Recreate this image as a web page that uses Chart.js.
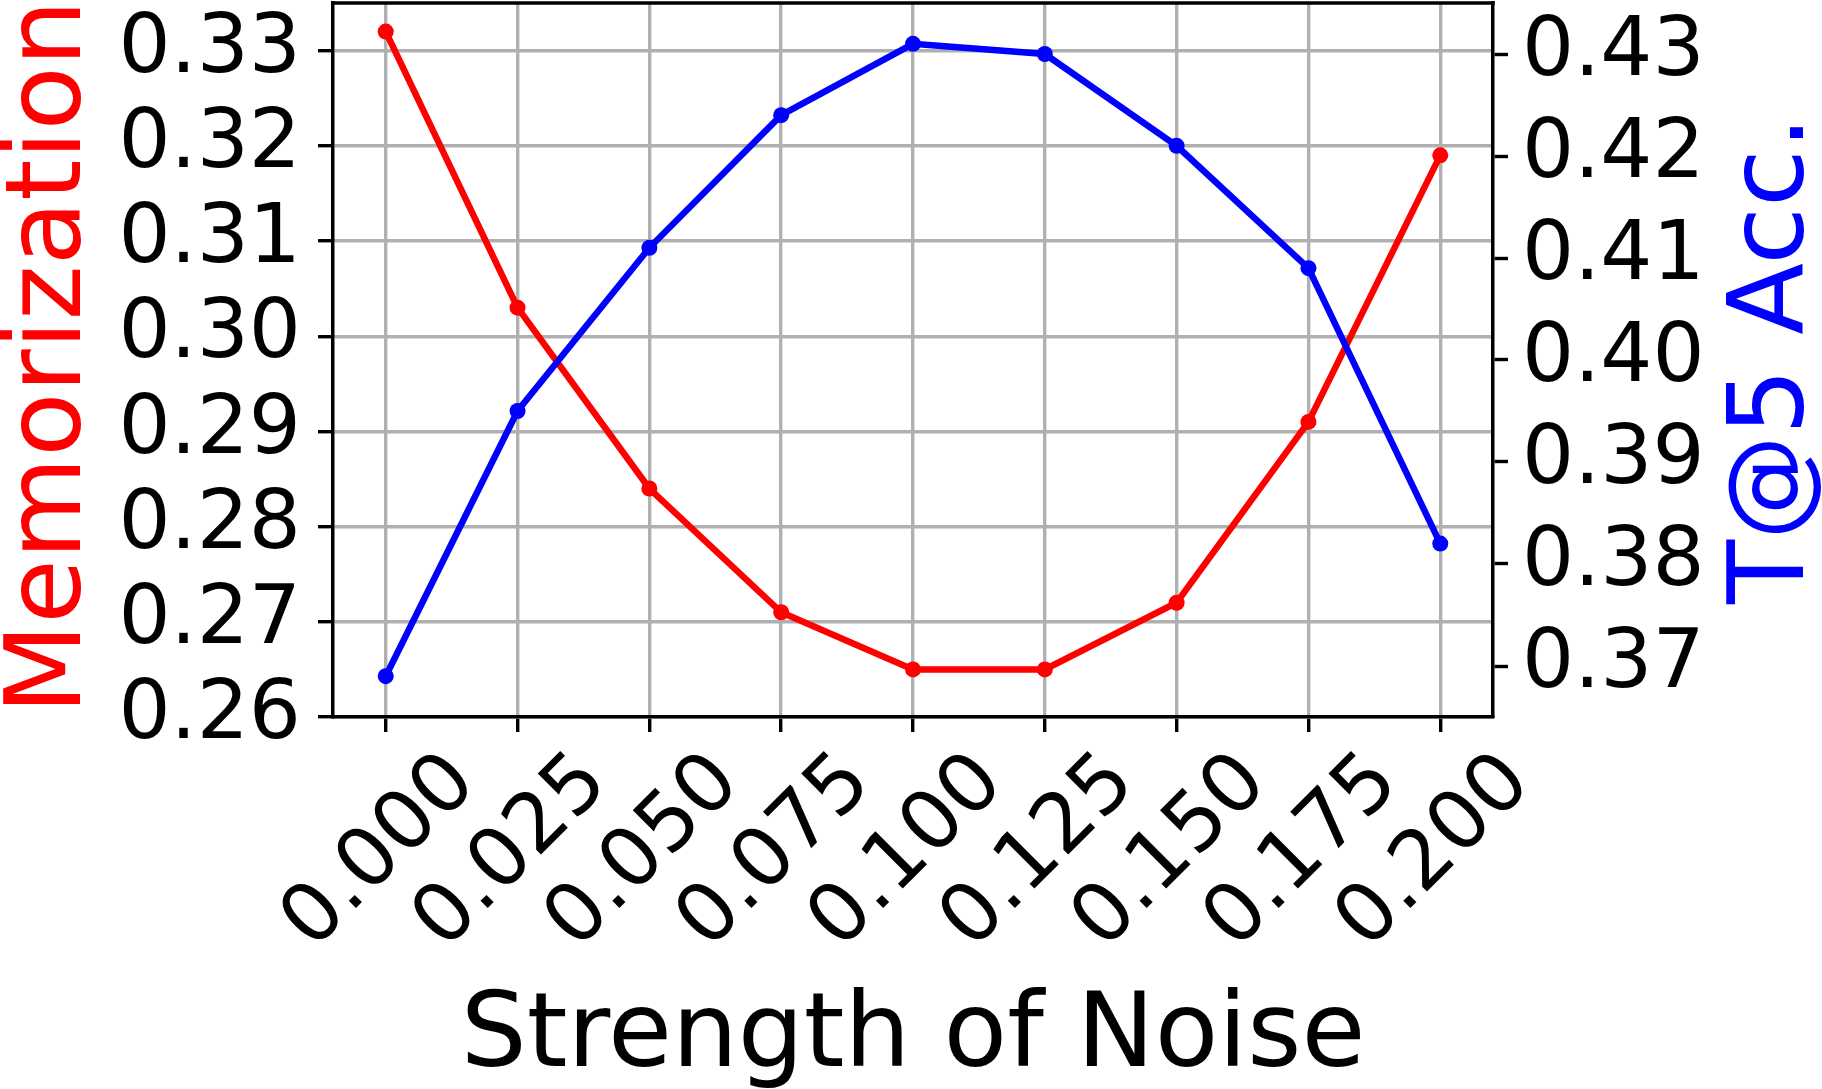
<!DOCTYPE html>
<html>
<head>
<meta charset="utf-8">
<title>Memorization vs T@5 Acc.</title>
<script src="https://cdn.jsdelivr.net/npm/chart.js@4.4.1/dist/chart.umd.min.js"></script>
<style>
  html, body { margin: 0; padding: 0; background: #fff; }
  #wrap { width: 1822px; height: 1089px; }
</style>
</head>
<body>
<div id="wrap"><canvas id="noiseChart" width="1822" height="1089"></canvas></div>
<script>
// data
const noise = [0.000, 0.025, 0.050, 0.075, 0.100, 0.125, 0.150, 0.175, 0.200];
const memorization = [0.332, 0.303, 0.284, 0.271, 0.265, 0.265, 0.272, 0.291, 0.319];
const t5Acc = [0.369, 0.395, 0.411, 0.424, 0.431, 0.430, 0.421, 0.409, 0.382];
const memTicks = [0.26, 0.27, 0.28, 0.29, 0.30, 0.31, 0.32, 0.33];
const accTicks = [0.37, 0.38, 0.39, 0.40, 0.41, 0.42, 0.43];

const xTitle = 'Strength of Noise';
const leftTitle = 'Memorization';
const rightTitle = 'T@5 Acc.';

const FONT = '"DejaVu Sans", "Liberation Sans", sans-serif';
const TICK_SIZE = 82;

function setTicks(list) {
    return function(scale) {
        scale.ticks = list.map(v => ({ value: v }));
    };
}

function fixSize(prop, size) {
    return function(scale) {
        scale[prop] = size;
        scale.paddingTop = 0;
        scale.paddingBottom = 0;
        scale.paddingLeft = 0;
        scale.paddingRight = 0;
    };
}

// top spine, rotated x tick labels and the three axis titles
const decor = {
    id: 'decor',
    afterDatasetsDraw(chart) {
        const { ctx, chartArea: a, scales } = chart;
        ctx.save();
        ctx.strokeStyle = '#000';
        ctx.lineWidth = 3.5;
        ctx.beginPath();
        ctx.moveTo(a.left - 1.75, a.top);
        ctx.lineTo(a.right + 1.75, a.top);
        ctx.stroke();

        ctx.fillStyle = '#000';
        ctx.font = TICK_SIZE + 'px ' + FONT;
        ctx.textAlign = 'center';
        ctx.textBaseline = 'middle';
        scales.x.ticks.forEach(t => {
            const px = scales.x.getPixelForValue(t.value);
            ctx.save();
            ctx.translate(px - 5, a.bottom + 136);
            ctx.rotate(-Math.PI / 4);
            ctx.fillText(t.value.toFixed(3), 0, 0);
            ctx.restore();
        });

        ctx.font = '104px ' + FONT;
        ctx.textBaseline = 'alphabetic';
        ctx.fillText(xTitle, (a.left + a.right) / 2, chart.height - 23);

        const midY = (a.top + a.bottom) / 2;
        ctx.font = '105px ' + FONT;
        ctx.fillStyle = '#ff0000';
        ctx.save();
        ctx.translate(80, midY - 3);
        ctx.rotate(-Math.PI / 2);
        ctx.fillText(leftTitle, 0, 0);
        ctx.restore();

        ctx.fillStyle = '#0000ff';
        ctx.save();
        ctx.translate(1803, midY);
        ctx.rotate(-Math.PI / 2);
        ctx.fillText(rightTitle, 0, 0);
        ctx.restore();
        ctx.restore();
    }
};

const ctx = document.getElementById('noiseChart').getContext('2d');
const noiseChart = new Chart(ctx, {
    type: 'line',
    data: {
        datasets: [{
            label: rightTitle,
            data: noise.map((x, i) => ({ x: x, y: t5Acc[i] })),
            yAxisID: 'yRight',
            borderColor: '#0000ff',
            backgroundColor: '#0000ff',
            borderWidth: 6.5,
            pointRadius: 8,
            pointBorderWidth: 0,
            tension: 0,
            order: 1
        }, {
            label: leftTitle,
            data: noise.map((x, i) => ({ x: x, y: memorization[i] })),
            yAxisID: 'yLeft',
            borderColor: '#ff0000',
            backgroundColor: '#ff0000',
            borderWidth: 6.5,
            pointRadius: 8,
            pointBorderWidth: 0,
            tension: 0,
            order: 2
        }]
    },
    options: {
        responsive: false,
        animation: false,
        events: [],
        layout: { autoPadding: false, padding: { top: 3, left: 0, right: 0, bottom: 0 } },
        plugins: {
            legend: { display: false },
            tooltip: { enabled: false }
        },
        scales: {
            x: {
                type: 'linear',
                position: 'bottom',
                min: -0.01,
                max: 0.21,
                afterBuildTicks: setTicks(noise),
                afterFit: fixSize('height', 372),
                ticks: { display: false, autoSkip: false },
                grid: {
                    color: '#b0b0b0',
                    lineWidth: 3.4,
                    tickColor: '#000',
                    tickWidth: 3.4,
                    tickLength: 15
                },
                border: { display: true, color: '#000', width: 3.5 }
            },
            yLeft: {
                type: 'linear',
                position: 'left',
                min: 0.26,
                max: 0.335,
                afterBuildTicks: setTicks(memTicks),
                afterFit: fixSize('width', 333),
                ticks: {
                    autoSkip: false,
                    color: '#000',
                    padding: 17,
                    font: { family: FONT, size: TICK_SIZE },
                    callback: v => v.toFixed(2)
                },
                grid: {
                    color: '#b0b0b0',
                    lineWidth: 3.4,
                    tickColor: '#000',
                    tickWidth: 3.4,
                    tickLength: 15
                },
                border: { display: true, color: '#000', width: 3.5 }
            },
            yRight: {
                type: 'linear',
                position: 'right',
                min: 0.365,
                max: 0.435,
                afterBuildTicks: setTicks(accTicks),
                afterFit: fixSize('width', 329),
                ticks: {
                    autoSkip: false,
                    color: '#000',
                    padding: 14,
                    font: { family: FONT, size: TICK_SIZE },
                    callback: v => v.toFixed(2)
                },
                grid: {
                    drawOnChartArea: false,
                    tickColor: '#000',
                    tickWidth: 3.4,
                    tickLength: 15
                },
                border: { display: true, color: '#000', width: 3.5 }
            }
        }
    },
    plugins: [decor]
});
</script>
</body>
</html>
